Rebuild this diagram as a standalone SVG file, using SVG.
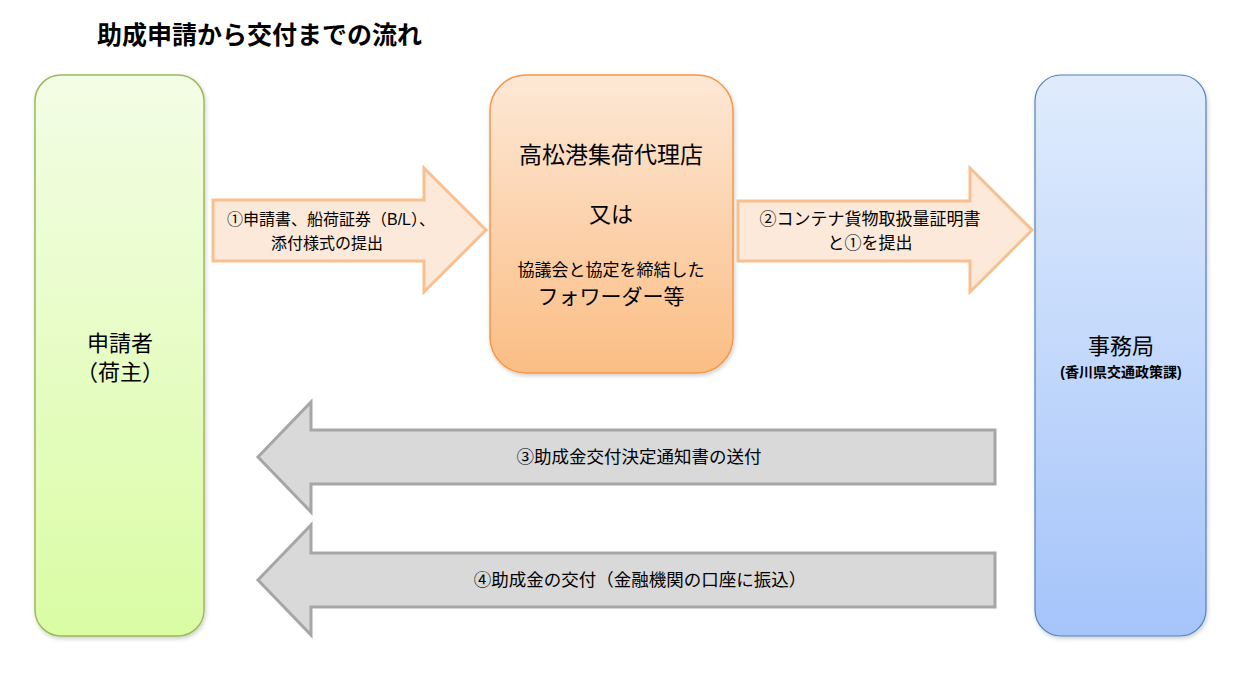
<svg xmlns="http://www.w3.org/2000/svg" width="1242" height="674" viewBox="0 0 1242 674">
<defs>
<linearGradient id="gG" x1="0" y1="0" x2="0" y2="1"><stop offset="0" stop-color="#f3fde5"/><stop offset="1" stop-color="#dafca4"/></linearGradient>
<linearGradient id="gO" x1="0" y1="0" x2="0" y2="1"><stop offset="0" stop-color="#fde8d6"/><stop offset="1" stop-color="#fbbd84"/></linearGradient>
<linearGradient id="gB" x1="0" y1="0" x2="0" y2="1"><stop offset="0" stop-color="#e0ecfd"/><stop offset="1" stop-color="#a5c4fa"/></linearGradient>
<filter id="sh" x="-10%" y="-10%" width="120%" height="120%"><feDropShadow dx="1" dy="2" stdDeviation="2" flood-color="#000" flood-opacity="0.2"/></filter>
</defs>
<style>
text{font-family:"Liberation Sans","Noto Sans CJK JP",sans-serif;fill:#000;text-anchor:middle}
.t{font-size:22px}
.s{font-size:16px}
.g{font-size:17.5px}
.a1{fill:#fde9d9;stroke:#f9bf8f;stroke-width:3}
.a2{fill:#d9d9d9;stroke:#a6a6a6;stroke-width:3}
</style>
<rect width="1242" height="674" fill="#fff"/>
<text x="97" y="44" style="font-size:25px;font-weight:bold;text-anchor:start">助成申請から交付までの流れ</text>
<g id="applicant">
<rect x="35" y="75" width="169" height="561" rx="26" fill="url(#gG)" stroke="#9bbb59" stroke-width="1.5" filter="url(#sh)"/>
<text class="t" x="120" y="351">申請者</text>
<text class="t" x="120" y="380">（荷主）</text>
</g>
<g id="agent">
<rect x="490" y="75" width="243" height="298" rx="36" fill="url(#gO)" stroke="#f79646" stroke-width="1.5" filter="url(#sh)"/>
<text x="611" y="163" style="font-size:23px">高松港集荷代理店</text>
<text class="t" x="611" y="222">又は</text>
<text x="611" y="276" style="font-size:17px">協議会と協定を締結した</text>
<text x="611" y="304" style="font-size:21px">フォワーダー等</text>
</g>
<g id="office">
<rect x="1035" y="75" width="171" height="561" rx="26" fill="url(#gB)" stroke="#4f81bd" stroke-width="1.2" filter="url(#sh)"/>
<text class="t" x="1121" y="354">事務局</text>
<text x="1121" y="377" style="font-size:14px;font-weight:bold">(香川県交通政策課)</text>
</g>
<g id="connectors">
<polygon class="a1" points="213,200 424,200 424,168 486,230 424,292 424,261 213,261"/>
<text class="s" x="331" y="225">①申請書、船荷証券（B/L）、</text>
<text class="s" x="327" y="249">添付様式の提出</text>
<polygon class="a1" points="738,201 970,201 970,168 1032,230 970,292 970,261 738,261"/>
<text x="870" y="225" style="font-size:17px">②コンテナ貨物取扱量証明書</text>
<text x="870" y="249" style="font-size:17px">と①を提出</text>
<polygon class="a2" points="995,430 311,430 311,402 258,457 311,512 311,484 995,484"/>
<text class="g" x="639" y="463">③助成金交付決定通知書の送付</text>
<polygon class="a2" points="995,553 311,553 311,525 258,580 311,635 311,607 995,607"/>
<text class="g" x="640" y="586">④助成金の交付（金融機関の口座に振込）</text>
</g>
</svg>
